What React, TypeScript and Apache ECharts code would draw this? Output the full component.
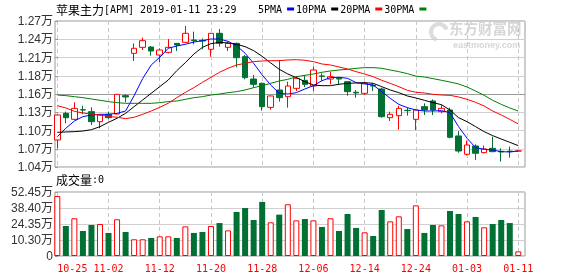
import React, { useEffect, useRef } from 'react';
import * as echarts from 'echarts';

const dates = ['10-25','10-26','10-29','10-30','10-31','11-01','11-02','11-05','11-06','11-07','11-08','11-09','11-12','11-13','11-14','11-15','11-16','11-19','11-20','11-21','11-22','11-23','11-26','11-27','11-28','11-29','11-30','12-03','12-04','12-05','12-06','12-07','12-10','12-11','12-12','12-13','12-14','12-17','12-18','12-19','12-20','12-21','12-24','12-25','12-26','12-27','12-28','01-02','01-03','01-04','01-07','01-08','01-09','01-10','01-11'];

const opens = [10826,11246,11151,11303,11272,11114,11230,11235,11524,12191,12285,12290,12164,12206,12348,12364,12401,12396,12254,12506,12285,12348,12138,11786,11718,11340,11613,11508,11639,11765,11676,11834,11786,11797,11744,11577,11561,11687,11629,11177,11209,11293,11151,11351,11440,11272,11298,10889,10600,10731,10626,10694,10647,10650,10652];
const closes = [11219,11177,11324,11298,11114,11219,11177,11545,11503,12270,12390,12227,12243,12285,12322,12506,12390,12385,12506,12348,12348,12122,11808,11702,11351,11519,11492,11676,11797,11702,11928,11828,11823,11786,11587,11566,11718,11676,11193,11230,11324,11288,11298,11298,11298,11324,10868,10652,10747,10616,10684,10642,10637,10642,10652];
const lows = [10694,11088,11140,11230,11062,11010,11156,11230,11419,12070,12243,12154,12049,12190,12227,12355,12332,12254,12138,12296,12227,11970,11781,11650,11288,11303,11430,11335,11597,11660,11597,11755,11702,11692,11524,11492,11534,11597,11177,11125,10988,11209,10983,11219,11219,11246,10852,10626,10579,10511,10616,10631,10485,10547,10652];
const highs = [11230,11272,11419,11366,11340,11225,11272,11550,11545,12348,12437,12306,12270,12416,12348,12621,12532,12427,12510,12574,12374,12359,12164,11850,11730,11525,12086,11744,11834,11850,11981,11876,11902,11813,11750,11613,11744,11718,11650,11272,11366,11335,11305,11403,11466,11377,11335,10967,10815,10757,10737,10878,10694,10721,10652];
const volumes = [492000,246000,309000,205000,254000,262000,189000,301000,197000,137000,137000,148000,161000,161000,148000,243000,189000,197000,246000,270000,210000,361000,393000,295000,443000,276000,339000,424000,292000,303000,292000,238000,309000,205000,344000,230000,194000,164000,377000,284000,325000,221000,415000,189000,254000,251000,369000,344000,284000,320000,235000,262000,295000,270000,38000];

const ma5 = [10878,11010,11125,11193,11219,11230,11230,11246,11282,11524,11792,12007,12128,12270,12306,12333,12369,12390,12416,12416,12380,12311,12191,12033,11850,11692,11561,11550,11571,11629,11681,11760,11808,11813,11797,11729,11708,11692,11587,11482,11387,11335,11298,11282,11282,11288,11256,11036,10852,10705,10679,10668,10642,10637,10652];
const ma10 = [10946,10952,10957,10967,10988,11036,11104,11167,11246,11351,11456,11561,11666,11771,11918,12044,12180,12285,12343,12364,12354,12333,12296,12233,12143,12039,11939,11865,11808,11745,11692,11681,11681,11703,11718,11724,11729,11718,11666,11613,11571,11519,11487,11451,11414,11382,11298,11177,11114,11036,10957,10894,10841,10789,10736];
const ma20 = [11366,11330,11277,11251,11235,11219,11198,11183,11162,11183,11230,11282,11340,11405,11492,11576,11650,11734,11813,11892,11955,12007,12033,12060,12070,12075,12075,12086,12091,12081,12060,12023,12007,11976,11944,11902,11865,11823,11766,11718,11666,11608,11577,11566,11545,11534,11529,11503,11466,11419,11361,11282,11219,11151,11078];
const ma30 = [11534,11524,11508,11492,11471,11451,11430,11414,11403,11403,11403,11403,11414,11430,11440,11466,11492,11508,11534,11550,11571,11587,11613,11650,11681,11718,11755,11781,11823,11844,11865,11892,11913,11928,11939,11955,11965,11965,11955,11928,11902,11871,11831,11818,11792,11766,11739,11708,11660,11597,11529,11451,11387,11330,11282];

const priceTickLabels = ['1.04万','1.07万','1.10万','1.13万','1.16万','1.18万','1.21万','1.24万','1.27万'];
const volumeTickLabels = ['0','10.30万','24.35万','38.40万','52.45万'];
const priceMin = 10400;
const priceMax = 12700;
const volumeMax = 524500;

const RED = '#ff0000';
const GREEN = '#007033';
const MONO = 'DejaVu Sans Mono';
const CJK = 'Noto Sans CJK SC';

function isUp(i: number) {
  if (closes[i] !== opens[i]) return closes[i] > opens[i];
  return i > 0 ? closes[i] >= closes[i - 1] : true;
}

export default function App() {
  const ref = useRef<HTMLDivElement>(null);
  useEffect(() => {
    document.body.style.margin = '0';
    const chart = echarts.init(ref.current!, null, { renderer: 'svg' });
    const dashed = { show: true, interval: (i: number) => i % 6 === 0, lineStyle: { color: '#c8c8c8', type: [4, 3] as any, width: 1 } };
    const frameGrid = { show: true, borderColor: '#999', borderWidth: 1, backgroundColor: 'transparent' };
    const rich = {
      a: { fontFamily: CJK, fontSize: 12, color: '#000', fontWeight: 'normal' },
      b: { fontFamily: MONO, fontSize: 10, color: '#000', fontWeight: 'normal' },
    };
    const option: any = {
      animation: false,
      title: [
        { text: '{a|苹果主力}{b|[APM] 2019-01-11 23:29}', left: 56, top: 3, padding: 0, textStyle: { fontWeight: 'normal', rich } },
        { text: '{a|成交量}{b|:0}', left: 56, top: 173, padding: 0, textStyle: { fontWeight: 'normal', rich } },
      ],
      legend: {
        data: ['5PMA', '10PMA', '20PMA', '30PMA'], left: 258, top: 4, padding: 0,
        itemWidth: 7, itemHeight: 3, itemGap: 2, align: 'right', icon: 'rect',
        textStyle: { fontFamily: MONO, fontSize: 10, color: '#000' },
      },
      graphic: [
        { type: 'arc', shape: { cx: 439, cy: 32, r: 8, startAngle: Math.PI * 0.6, endAngle: Math.PI * 1.9 }, style: { stroke: '#dcdcdc', lineWidth: 4, fill: 'none' }, silent: true },
        { type: 'text', left: 449, top: 20, silent: true, style: { text: '东方财富网', fontSize: 14.5, lineHeight: 15, fontWeight: 'bold', fontFamily: CJK, fill: '#d6d6d6' } },
        { type: 'text', left: 453, top: 40, silent: true, style: { text: 'eastmoney.com', fontSize: 9, lineHeight: 8, fontWeight: 'bold', fontFamily: 'Liberation Sans', fill: '#d6d6d6' } },
      ],
      grid: [
        { left: 55, width: 470, top: 21, height: 146, ...frameGrid },
        { left: 57.3, width: 461, top: 21, height: 146, show: false },
        { left: 55, width: 470, top: 192, height: 64, ...frameGrid },
        { left: 57.3, width: 461, top: 192, height: 64, show: false },
      ],
      xAxis: [
        { gridIndex: 0, type: 'value', min: 0, max: 1, show: false },
        { gridIndex: 1, type: 'category', data: dates, boundaryGap: false, axisLine: { show: false }, axisTick: { show: false }, axisLabel: { show: false }, splitLine: dashed },
        { gridIndex: 2, type: 'value', min: 0, max: 1, show: false },
        {
          gridIndex: 3, type: 'category', data: dates, boundaryGap: false, axisLine: { show: false }, axisTick: { show: false },
          axisLabel: { interval: (i: number) => i % 6 === 0, color: RED, fontFamily: MONO, fontSize: 10, margin: 7, alignMinLabel: 'left' },
          splitLine: dashed,
        },
      ],
      yAxis: [
        {
          gridIndex: 0, type: 'value', min: 0, max: 8, interval: 1,
          axisLine: { show: false },
          axisTick: { show: true, inside: true, length: 3, lineStyle: { color: '#999' } },
          axisLabel: { formatter: (v: number) => priceTickLabels[Math.round(v)], color: '#333', fontFamily: 'Liberation Sans, ' + CJK, fontSize: 12, margin: 2 },
          splitLine: { show: true, lineStyle: { color: ['#d0d0d0', '#d0d0d0', '#d0d0d0', '#d0d0d0', '#999', '#d0d0d0', '#d0d0d0', '#d0d0d0', '#d0d0d0'], width: 1 } },
        },
        { gridIndex: 1, type: 'value', min: priceMin, max: priceMax, show: false },
        {
          gridIndex: 2, type: 'value', min: 0, max: 4, interval: 1,
          axisLine: { show: false },
          axisTick: { show: true, inside: true, length: 3, lineStyle: { color: '#999' } },
          axisLabel: { formatter: (v: number) => volumeTickLabels[Math.round(v)], color: '#333', fontFamily: 'Liberation Sans, ' + CJK, fontSize: 12, margin: 2 },
          splitLine: { show: true, lineStyle: { color: '#d0d0d0', width: 1 } },
        },
        { gridIndex: 3, type: 'value', min: 0, max: volumeMax, show: false },
      ],
      series: [
        {
          type: 'candlestick', name: 'K', xAxisIndex: 1, yAxisIndex: 1, barWidth: 6, clip: false,
          itemStyle: { color: '#fff', color0: GREEN, borderColor: RED, borderColor0: GREEN, borderWidth: 1 },
          data: dates.map((_, i) => [opens[i], closes[i], lows[i], highs[i]]),
        },
        { type: 'line', name: '5PMA', xAxisIndex: 1, yAxisIndex: 1, data: ma5, showSymbol: false, symbol: 'none', color: '#0000ff', lineStyle: { width: 1, color: '#0000ff' } },
        { type: 'line', name: '10PMA', xAxisIndex: 1, yAxisIndex: 1, data: ma10, showSymbol: false, symbol: 'none', color: '#000000', lineStyle: { width: 1, color: '#000000' } },
        { type: 'line', name: '20PMA', xAxisIndex: 1, yAxisIndex: 1, data: ma20, showSymbol: false, symbol: 'none', color: '#ff0000', lineStyle: { width: 1, color: '#ff0000' } },
        { type: 'line', name: '30PMA', xAxisIndex: 1, yAxisIndex: 1, data: ma30, showSymbol: false, symbol: 'none', color: '#008000', lineStyle: { width: 1, color: '#008000' } },
        {
          type: 'bar', name: '成交量', xAxisIndex: 3, yAxisIndex: 3, barWidth: 6,
          data: volumes.map((v, i) => ({
            value: v,
            itemStyle: isUp(i) ? { color: '#fff', borderColor: RED, borderWidth: 1 } : { color: GREEN, borderColor: GREEN, borderWidth: 0 },
          })),
        },
      ],
    };
    chart.setOption(option);
    return () => chart.dispose();
  }, []);
  return <div ref={ref} style={{ width: 578, height: 276, position: 'fixed', left: 0, top: 0 }} />;
}
